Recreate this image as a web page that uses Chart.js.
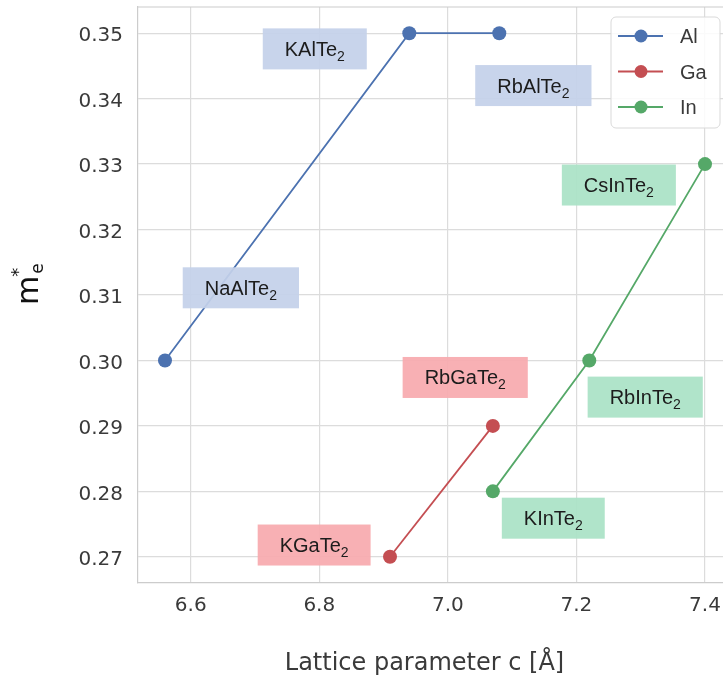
<!DOCTYPE html>
<html>
<head>
<meta charset="utf-8">
<script src="https://cdn.jsdelivr.net/npm/chart.js@4.4.1/dist/chart.umd.min.js"></script>
<style>
  html, body { margin: 0; padding: 0; background: #fff; overflow: hidden; }
  #wrap { width: 745px; height: 679px; }
</style>
</head>
<body>
<div id="wrap"><canvas id="massChart" width="745" height="679"></canvas></div>
<script>
// lattice parameter c (Å) vs electron effective mass, per group-13 element
const alC = [6.56, 6.94, 7.08];
const alMass = [0.30, 0.35, 0.35];
const gaC = [6.91, 7.07];
const gaMass = [0.27, 0.29];
const inC = [7.07, 7.22, 7.40];
const inMass = [0.28, 0.30, 0.33];

const seriesNames = ['Al', 'Ga', 'In'];
const lineColors = ['#4c72b0', '#c44e52', '#55a868'];
const boxColors = ['rgba(196,209,233,0.93)', 'rgba(247,170,174,0.93)', 'rgba(170,226,198,0.93)'];

// compound labels (written as "X" + subscript 2), anchored in data units
const labelNames = ['NaAlTe', 'KAlTe', 'RbAlTe', 'KGaTe', 'RbGaTe', 'KInTe', 'RbInTe', 'CsInTe'];
const labelSeries = [0, 0, 0, 1, 1, 2, 2, 2];
const labelC = [6.678, 6.793, 7.133, 6.792, 7.027, 7.164, 7.307, 7.266];
const labelMass = [0.3111, 0.3476, 0.3420, 0.2718, 0.2974, 0.2759, 0.2944, 0.3268];

const xTicks = [6.6, 6.8, 7.0, 7.2, 7.4];
const yTicks = [0.27, 0.28, 0.29, 0.30, 0.31, 0.32, 0.33, 0.34, 0.35];

const tickFont = '"DejaVu Sans", Verdana, sans-serif';
const boxFont = '"Liberation Sans", Arial, sans-serif';
const textGray = '#3a3a3a';

function toPoints(xs, ys) {
    return xs.map((x, i) => ({ x: x, y: ys[i] }));
}

const seriesData = [toPoints(alC, alMass), toPoints(gaC, gaMass), toPoints(inC, inMass)];

const datasets = seriesNames.map((name, i) => ({
    label: name,
    data: seriesData[i],
    showLine: true,
    borderColor: lineColors[i],
    backgroundColor: lineColors[i],
    borderWidth: 1.8,
    pointRadius: 7,
    pointBorderWidth: 0,
    pointBackgroundColor: lineColors[i]
}));

function drawCompound(ctx, name, cx, cy, fill) {
    ctx.font = '20px ' + boxFont;
    const w1 = ctx.measureText(name).width;
    ctx.font = '14px ' + boxFont;
    const w2 = ctx.measureText('2').width;
    const boxW = w1 + w2 + 44;
    const boxH = 41;
    ctx.fillStyle = fill;
    ctx.fillRect(cx - boxW / 2, cy - boxH / 2, boxW, boxH);

    const x0 = cx - (w1 + w2) / 2;
    ctx.fillStyle = '#1c1c1c';
    ctx.textAlign = 'left';
    ctx.textBaseline = 'alphabetic';
    ctx.font = '20px ' + boxFont;
    ctx.fillText(name, x0, cy + 7);
    ctx.font = '14px ' + boxFont;
    ctx.fillText('2', x0 + w1, cy + 12);
}

const labelPlugin = {
    id: 'compoundLabels',
    afterDatasetsDraw(chart) {
        const ctx = chart.ctx;
        const xs = chart.scales.x, ys = chart.scales.y;
        ctx.save();
        labelNames.forEach((name, i) => {
            drawCompound(ctx, name,
                xs.getPixelForValue(labelC[i]),
                ys.getPixelForValue(labelMass[i]),
                boxColors[labelSeries[i]]);
        });
        ctx.restore();
    }
};

const framePlugin = {
    id: 'frameAndTitles',
    beforeDatasetsDraw(chart) {
        const { ctx, chartArea } = chart;
        ctx.save();
        ctx.strokeStyle = '#cccccc';
        ctx.lineWidth = 1.2;
        ctx.beginPath();
        ctx.moveTo(chartArea.left, chartArea.top);
        ctx.lineTo(chartArea.right, chartArea.top);
        ctx.stroke();
        ctx.restore();
    },
    afterDraw(chart) {
        const ctx = chart.ctx;
        ctx.save();
        ctx.fillStyle = textGray;

        // x axis title
        ctx.font = '24px ' + tickFont;
        ctx.textAlign = 'center';
        ctx.textBaseline = 'alphabetic';
        ctx.fillText('Lattice parameter c [Å]', 424.5, 669.5);

        // y axis title m*_e, rotated
        ctx.fillStyle = '#111';
        ctx.translate(38, 305);
        ctx.rotate(-Math.PI / 2);
        ctx.textAlign = 'left';
        ctx.font = '30px ' + tickFont;
        ctx.fillText('m', 0, 0);
        const mw = ctx.measureText('m').width;
        ctx.font = '18px ' + tickFont;
        ctx.fillText('*', mw - 1, -14);
        ctx.font = '17px ' + tickFont;
        ctx.fillText('e', mw + 2, 5);
        ctx.restore();

        // legend
        ctx.save();
        const lx = 611, ly = 17, lw = 109, lh = 111;
        ctx.fillStyle = 'rgba(255,255,255,0.85)';
        ctx.strokeStyle = '#d9d9d9';
        ctx.lineWidth = 1;
        ctx.beginPath();
        ctx.roundRect(lx, ly, lw, lh, 5);
        ctx.fill();
        ctx.stroke();
        seriesNames.forEach((name, i) => {
            const ry = 36 + i * 35.5;
            ctx.strokeStyle = lineColors[i];
            ctx.lineWidth = 1.8;
            ctx.beginPath();
            ctx.moveTo(618, ry);
            ctx.lineTo(663, ry);
            ctx.stroke();
            ctx.fillStyle = lineColors[i];
            ctx.beginPath();
            ctx.arc(641, ry, 6.5, 0, Math.PI * 2);
            ctx.fill();
            ctx.fillStyle = textGray;
            ctx.font = '20px ' + boxFont;
            ctx.textAlign = 'left';
            ctx.textBaseline = 'alphabetic';
            ctx.fillText(name, 680, ry + 7);
        });
        ctx.restore();
    }
};

new Chart(document.getElementById('massChart'), {
    type: 'scatter',
    data: { datasets: datasets },
    options: {
        responsive: false,
        animation: false,
        layout: { padding: { top: 6, right: 13, left: 0, bottom: 0 } },
        plugins: {
            legend: { display: false },
            tooltip: { enabled: false }
        },
        scales: {
            x: {
                type: 'linear',
                min: 6.518,
                max: 7.442,
                afterFit(scale) {
                    scale.height = 96;
                    scale.paddingLeft = 0;
                    scale.paddingRight = 0;
                },
                afterBuildTicks(scale) { scale.ticks = xTicks.map(v => ({ value: v })); },
                grid: { color: '#dcdcdc', lineWidth: 1.2, drawTicks: false },
                border: { color: '#cccccc', width: 1.2 },
                ticks: {
                    padding: 11,
                    color: textGray,
                    font: { family: tickFont, size: 20 },
                    callback: v => v.toFixed(1)
                }
            },
            y: {
                type: 'linear',
                min: 0.266,
                max: 0.354,
                afterFit(scale) {
                    scale.width = 138;
                    scale.paddingTop = 0;
                    scale.paddingBottom = 0;
                },
                afterBuildTicks(scale) { scale.ticks = yTicks.map(v => ({ value: v })); },
                grid: { color: '#dcdcdc', lineWidth: 1.2, drawTicks: false },
                border: { color: '#cccccc', width: 1.2 },
                ticks: {
                    padding: 15,
                    labelOffset: 3,
                    color: textGray,
                    font: { family: tickFont, size: 20 },
                    callback: v => v.toFixed(2)
                }
            }
        }
    },
    plugins: [framePlugin, labelPlugin]
});
</script>
</body>
</html>
